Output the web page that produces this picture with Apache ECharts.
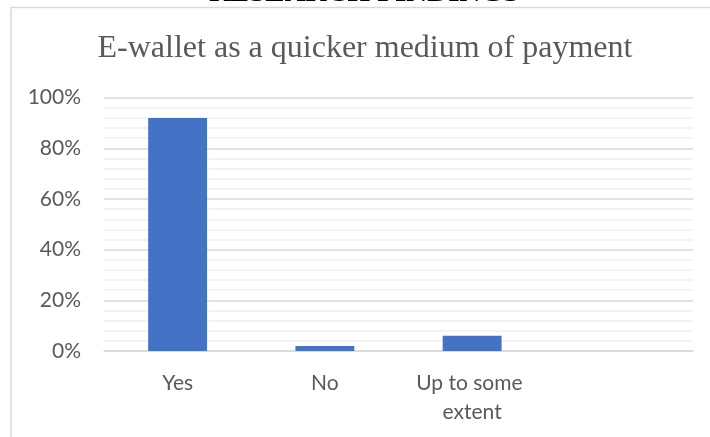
<!DOCTYPE html>
<html>
<head>
<meta charset="utf-8">
<script src="https://cdn.jsdelivr.net/npm/echarts@6/dist/echarts.min.js"></script>
<style>
  html, body { margin: 0; padding: 0; background: #ffffff; }
  #chart { width: 710px; height: 437px; }
</style>
</head>
<body>
<div id="chart"></div>
<script>
// Survey answers: is an e-wallet a quicker medium of payment?
const categories = ['Yes', 'No', 'Up to some extent', ''];
const shares = [0.92, 0.02, 0.06, null];
const yTicks = [0, 0.2, 0.4, 0.6, 0.8, 1.0];

const chart = echarts.init(document.getElementById('chart'), null, { renderer: 'canvas' });

chart.setOption({
  animation: false,
  backgroundColor: '#ffffff',
  graphic: [
    {
      // section heading sitting above the chart frame
      type: 'text',
      x: 364,
      y: 8,
      style: {
        text: 'RESEARCH FINDINGS',
        font: 'bold 29px "Liberation Serif", "Times New Roman", serif',
        fill: '#000000',
        textAlign: 'center',
        textVerticalAlign: 'bottom'
      },
      z: 10
    },
    {
      // chart frame
      type: 'rect',
      shape: { x: 11, y: 7.5, width: 760, height: 500 },
      style: { fill: 'none', stroke: '#d9d9d9', lineWidth: 1.5 },
      silent: true,
      z: -1
    },
    {
      type: 'text',
      x: 365,
      y: 33,
      style: {
        text: 'E-wallet as a quicker medium of payment',
        font: '32px "Liberation Serif", "Times New Roman", serif',
        fill: '#595959',
        textAlign: 'center',
        textVerticalAlign: 'top'
      }
    }
  ],
  grid: {
    left: 104,
    right: 17,
    top: 97.7,
    bottom: 86,
    containLabel: false
  },
  xAxis: {
    type: 'category',
    data: categories,
    axisLine: { show: true, lineStyle: { color: '#d9d9d9', width: 1.5 } },
    axisTick: { show: false },
    axisLabel: {
      interval: 0,
      margin: 18,
      width: 130,
      overflow: 'break',
      lineHeight: 29,
      fontFamily: 'Lato, "Noto Sans", sans-serif',
      fontSize: 21,
      color: '#595959'
    }
  },
  yAxis: {
    type: 'value',
    min: yTicks[0],
    max: yTicks[yTicks.length - 1],
    interval: 0.2,
    axisLine: { show: false },
    axisTick: { show: false },
    axisLabel: {
      margin: 23,
      fontFamily: 'Lato, "Noto Sans", sans-serif',
      fontSize: 21,
      color: '#595959',
      formatter: v => Math.round(v * 100) + '%'
    },
    splitLine: { show: true, lineStyle: { color: '#d9d9d9', width: 1.5 } },
    minorTick: { show: false, splitNumber: 5 },
    minorSplitLine: { show: true, lineStyle: { color: '#f0f0f0', width: 1.5 } }
  },
  series: [
    {
      type: 'bar',
      data: shares,
      barWidth: '40%',
      itemStyle: { color: '#4472c4' }
    }
  ]
});
</script>
</body>
</html>
